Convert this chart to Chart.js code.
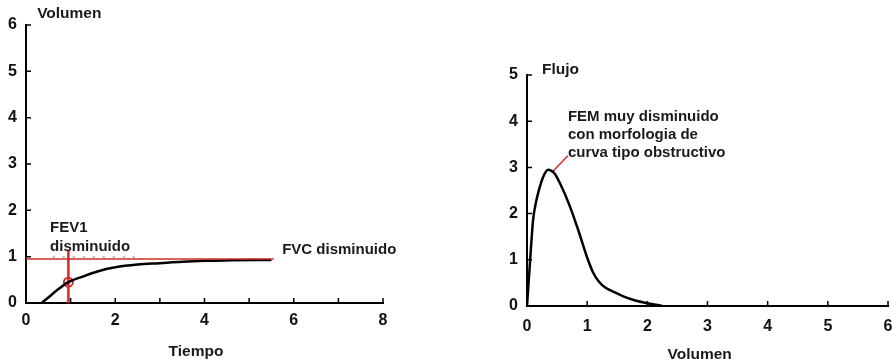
<!DOCTYPE html>
<html>
<head>
<meta charset="utf-8">
<script src="https://cdn.jsdelivr.net/npm/chart.js@4/dist/chart.umd.min.js"></script>
<style>
  html, body { margin: 0; padding: 0; background: #fff; overflow: hidden; }
  #left { position: absolute; left: 0; top: 0; }
  #right { position: absolute; left: 480px; top: 0; }
</style>
</head>
<body>
<canvas id="left" width="440" height="364"></canvas>
<canvas id="right" width="413" height="364"></canvas>
<script>
// volumen-tiempo curve
const tiempo = [0.35, 0.5, 0.7, 0.95, 1.3, 1.6, 2.0, 2.5, 3.0, 3.5, 4.0, 4.6, 5.5];
const volumen = [0, 0.12, 0.28, 0.45, 0.58, 0.68, 0.77, 0.83, 0.86, 0.89, 0.91, 0.92, 0.93];
// FVC / FEV1 markers
const fvcX = [0, 5.55];
const fvcY = [0.95, 0.95];
const fev1X = [0.95, 0.95];
const fev1Y = [0, 1.15];
const fev1PointX = [0.95];
const fev1PointY = [0.45];
const dotsX = [0.6, 2.45];
const dotsY = [0.99, 0.99];

// flujo-volumen curve
const volFlujo = [0, 0.05, 0.1, 0.15, 0.2, 0.27, 0.35, 0.45, 0.55, 0.7, 0.85, 1.0, 1.1, 1.2, 1.3, 1.45, 1.6, 1.8, 2.0, 2.25];
const flujo = [0, 0.95, 1.85, 2.25, 2.52, 2.8, 2.95, 2.88, 2.65, 2.2, 1.65, 1.05, 0.72, 0.52, 0.4, 0.3, 0.21, 0.12, 0.06, 0];
const femX = [0.42, 0.68];
const femY = [2.9, 3.25];

const RED = "#d42a2a";
Chart.defaults.font.family = "'Liberation Sans', Arial, sans-serif";
Chart.defaults.color = "#111";

const pts = (xs, ys) => xs.map((x, i) => ({ x, y: ys[i] }));

// small inward ticks + free text
const axisExtras = {
  id: "axisExtras",
  afterDraw(chart, args, opts) {
    const ctx = chart.ctx;
    const { x, y } = chart.scales;
    ctx.save();
    ctx.strokeStyle = "#000";
    ctx.lineWidth = 1.5;
    ctx.beginPath();
    x.ticks.forEach(t => {
      const px = x.getPixelForValue(t.value);
      ctx.moveTo(px, y.bottom);
      ctx.lineTo(px, y.bottom - 5);
    });
    y.ticks.forEach(t => {
      const py = y.getPixelForValue(t.value);
      ctx.moveTo(x.left, py);
      ctx.lineTo(x.left + 5, py);
    });
    ctx.stroke();
    ctx.textBaseline = "middle";
    (opts.texts || []).forEach(t => {
      ctx.font = t.font;
      ctx.fillStyle = "#1a1a1a";
      ctx.textAlign = t.align || "left";
      ctx.fillText(t.text, x.getPixelForValue(t.x), y.getPixelForValue(t.y));
    });
    ctx.restore();
  }
};

function axes(xMax, yMax, yWidth, xHeight, xLabel, xPad) {
  const common = {
    type: "linear",
    min: 0,
    grid: { drawOnChartArea: false, drawTicks: false },
    border: { display: true, color: "#000", width: 2 },
  };
  return {
    x: Object.assign({}, common, {
      max: xMax,
      ticks: { stepSize: 1, padding: xPad, font: { size: 16, weight: "bold" }, callback: xLabel },
      afterFit: s => { s.height = xHeight; s.paddingLeft = 0; s.paddingRight = 0; }
    }),
    y: Object.assign({}, common, {
      max: yMax,
      ticks: { stepSize: 1, padding: 9, font: { size: 16, weight: "bold" } },
      afterFit: s => { s.width = yWidth; s.paddingTop = 0; s.paddingBottom = 0; }
    })
  };
}

const TXT = "bold 15px 'Liberation Sans', Arial, sans-serif";
const TITLE = "bold 15.5px 'Liberation Sans', Arial, sans-serif";

new Chart(document.getElementById("left"), {
  type: "scatter",
  data: {
    datasets: [
      { data: pts(dotsX, dotsY), showLine: true, borderColor: "#aaa", borderWidth: 2, borderDash: [2, 8], pointRadius: 0 },
      { data: pts(fvcX, fvcY), showLine: true, borderColor: RED, borderWidth: 1.5, pointRadius: 0 },
      { data: pts(tiempo, volumen), showLine: true, borderColor: "#000", borderWidth: 2.5, pointRadius: 0, cubicInterpolationMode: "monotone" },
      { data: pts(fev1X, fev1Y), showLine: true, borderColor: RED, borderWidth: 2.5, pointRadius: 0 },
      { data: pts(fev1PointX, fev1PointY), pointRadius: 4.5, pointBorderColor: RED, pointBorderWidth: 2, pointBackgroundColor: "rgba(0,0,0,0)" }
    ]
  },
  options: {
    responsive: false,
    animation: false,
    layout: { padding: { top: 25, right: 57, bottom: 0, left: 0 } },
    plugins: {
      legend: { display: false },
      tooltip: { enabled: false },
      axisExtras: {
        texts: [
          { text: "Volumen", x: 0.25, y: 6.24, font: TITLE },
          { text: "FEV1", x: 0.54, y: 1.62, font: TXT },
          { text: "disminuido", x: 0.54, y: 1.21, font: TXT },
          { text: "FVC disminuido", x: 5.74, y: 1.14, font: TXT },
          { text: "Tiempo", x: 3.81, y: -1.06, font: TITLE, align: "center" }
        ]
      }
    },
    scales: axes(8, 6, 26, 61, v => (v % 2 === 0 ? v : ""), 8)
  },
  plugins: [axisExtras]
});

new Chart(document.getElementById("right"), {
  type: "scatter",
  data: {
    datasets: [
      { data: pts(volFlujo, flujo), showLine: true, borderColor: "#000", borderWidth: 2.5, pointRadius: 0, cubicInterpolationMode: "monotone" },
      { data: pts(femX, femY), showLine: true, borderColor: RED, borderWidth: 1.5, pointRadius: 0 }
    ]
  },
  options: {
    responsive: false,
    animation: false,
    layout: { padding: { top: 75, right: 5, bottom: 0, left: 0 } },
    plugins: {
      legend: { display: false },
      tooltip: { enabled: false },
      axisExtras: {
        texts: [
          { text: "Flujo", x: 0.25, y: 5.11, font: TITLE },
          { text: "FEM muy disminuido", x: 0.68, y: 4.09, font: TXT },
          { text: "con morfologia de", x: 0.68, y: 3.70, font: TXT },
          { text: "curva tipo obstructivo", x: 0.68, y: 3.31, font: TXT },
          { text: "Volumen", x: 2.87, y: -1.06, font: TITLE, align: "center" }
        ]
      }
    },
    scales: axes(6, 5, 47, 58, v => v, 11)
  },
  plugins: [axisExtras]
});
</script>
</body>
</html>
